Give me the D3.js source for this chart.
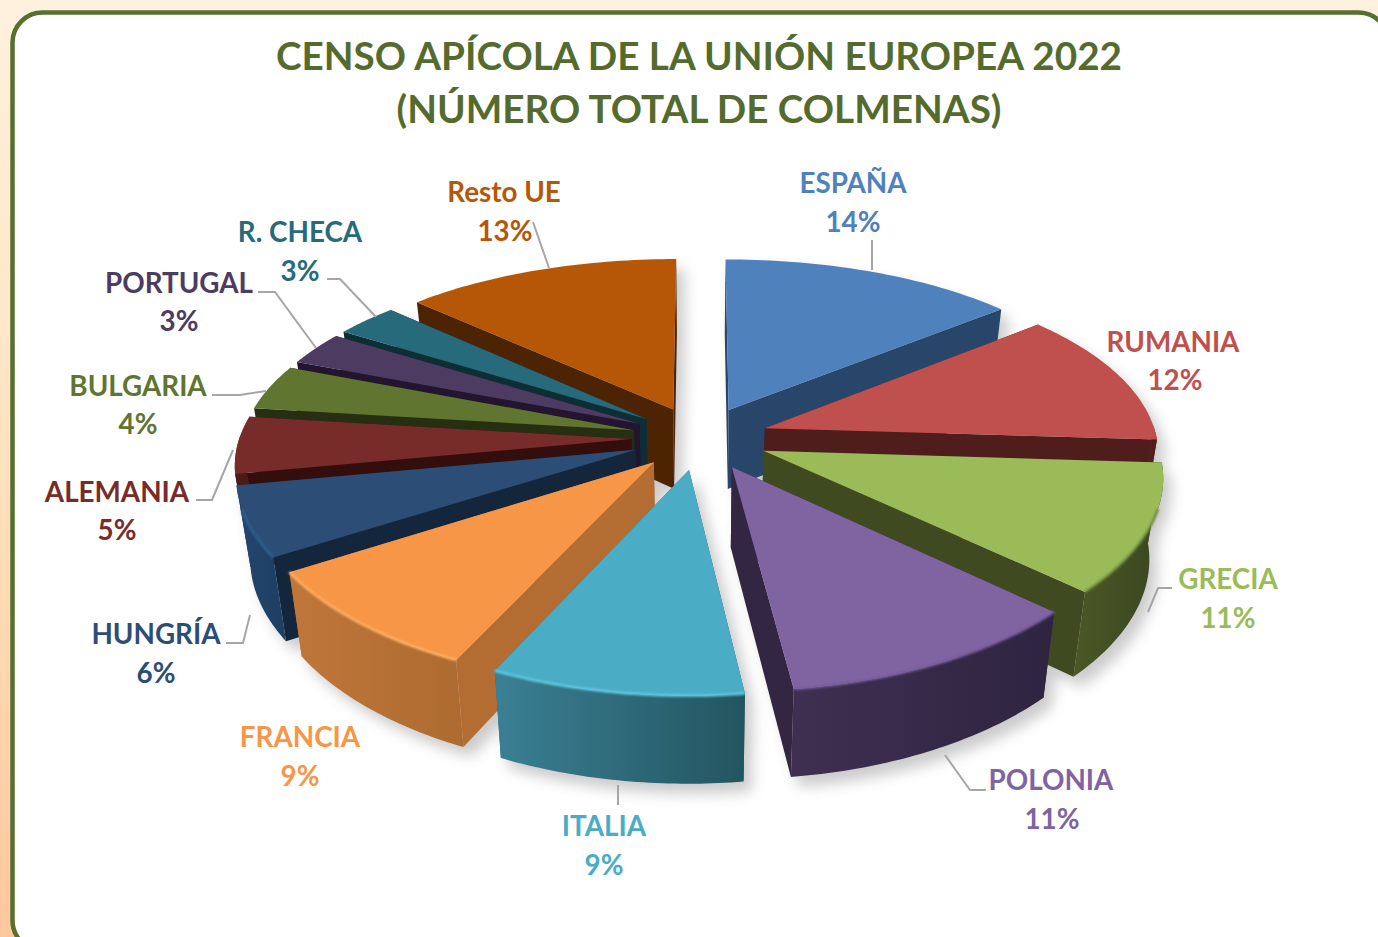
<!DOCTYPE html>
<html><head><meta charset="utf-8">
<script src="https://cdn.jsdelivr.net/npm/d3@7/dist/d3.min.js"></script>
<style>html,body{margin:0;padding:0;overflow:hidden;background:#fff}svg{display:block}text{font-family:Lato,"Open Sans",sans-serif;font-weight:700}</style>
</head><body><svg id="c" width="1378" height="937"></svg>
<script>
const categories=["ESPAÑA","RUMANIA","GRECIA","POLONIA","ITALIA","FRANCIA","HUNGRÍA","ALEMANIA","BULGARIA","PORTUGAL","R. CHECA","Resto UE"];
const values=[14,12,11,11,9,9,6,5,4,3,3,13];
const topColors=["#4F81BD","#C0504D","#9BBB59","#8064A2","#4BACC6","#F79646","#2C4D75","#772C2A","#5F7530","#4D3B62","#276A7C","#B65708"];
const sideColors=["#27466A","#4F1D1B","#3F4A20","#332642","#2A6374","#B36D33","#14263C","#330E0C","#272F12","#231530","#0E2E36","#4D2403"];
const wallLeft=["#27466A","#5A2320","#4A5826","#3F2F52","#3A8094","#C0763A","#234670","#4E1A18","#3A4A1A","#30243F","#174450","#6B3304"];
const wallRight=["#27466A","#4F1D1B","#3A4620","#2E2440","#235560","#AD6B30","#1E3E62","#4E1A18","#3A4A1A","#30243F","#174450","#6B3304"];
const rimColors=["#5A8CC8","#A8403D","#6F8A3F","#76599A","#62CBE6","#FFB166","#33608F","#7F3432","#6A8236","#55426C","#2C7488","#C0600C"];
const labelPos=[[853,193,853,232],[1173,352,1175,390],[1228,589,1228,628],[1051,790,1052,829],[604,836,604,875],[300,747,300,786],[156,644,156,683],[117,502,117,540],[138,396,138,434],[179,293,179,331],[300,242,300,281],[504,202,505,241]];
const leaders=[[[872,240],[872,270]],[],[[1172,588],[1158,588],[1148,612]],[[986,790],[970,790],[945,755]],[[618,785],[618,805]],[],[[226,643],[243,643],[250,615]],[[196,500],[212,500],[233,450]],[[212,395],[240,395],[266,391]],[[258,292],[275,292],[316,348]],[[327,279],[340,279],[376,317]],[[533,222],[549,268]]];
const titleLines=["CENSO APÍCOLA DE LA UNIÓN EUROPEA 2022","(NÚMERO TOTAL DE COLMENAS)"];

const svg=d3.select("#c"), defs=svg.append("defs");
const bg=defs.append("linearGradient").attr("id","bg").attr("x1",0).attr("x2",0).attr("y1",0).attr("y2",1);
bg.append("stop").attr("offset",0).attr("stop-color","#FEF1DE");
bg.append("stop").attr("offset",.5).attr("stop-color","#FFE2BE");
bg.append("stop").attr("offset",1).attr("stop-color","#FFC79E");
defs.append("filter").attr("id","blur").attr("x","-20%").attr("y","-20%").attr("width","140%").attr("height","140%")
  .append("feGaussianBlur").attr("stdDeviation",7);
defs.append("filter").attr("id","soft").attr("filterUnits","userSpaceOnUse").attr("x",0).attr("y",0).attr("width",1378).attr("height",937)
  .append("feGaussianBlur").attr("stdDeviation",.8);

svg.append("rect").attr("width",1378).attr("height",937).attr("fill","url(#bg)");
svg.append("rect").attr("x",12.5).attr("y",12.5).attr("width",1376).attr("height",938).attr("rx",30)
  .attr("fill","#fff").attr("stroke","#56702F").attr("stroke-width",4.5);

svg.selectAll("text.title").data(titleLines).join("text").attr("class","title")
  .attr("x",699).attr("y",(d,i)=>[70,123][i]).attr("text-anchor","middle")
  .attr("font-size",38.7).attr("fill","#556B2D").text(d=>d);

// tilted perspective projection
const xs=d3.scaleLinear().domain([-1,1]).range([-392,392]);
const ys=d3.scaleLinear().domain([-1,1]).range([-181,181]);
const zs=d3.scaleLinear().domain([0,1]).range([0,80]);
const cx=700, cy=438, persp=.15, perspX=.125, explode=.175;
function project(u,v,z){const s=1/(1-persp*v), sx=1/(1-perspX*v);return [cx+xs(u)*sx*(1-.03*z), cy+ys(v)*s+zs(z)*Math.sqrt(s)];}
const line=d3.line();
const arcs=d3.pie().sort(null).value(d=>d)(values).map((a,i)=>{
  const mid=(a.startAngle+a.endAngle)/2, ox=explode*Math.sin(mid), oy=-explode*Math.cos(mid);
  const angs=d3.range(0,41).map(k=>a.startAngle+(a.endAngle-a.startAngle)*k/40);
  const rim=angs.map(t=>[ox+Math.sin(t),oy-Math.cos(t)]);
  return {i,ox,oy,rim,depth:-Math.cos(mid)};
});
arcs.sort((p,q)=>p.depth-q.depth);
const P=(pts,z)=>pts.map(p=>project(p[0],p[1],z));
function geom(d){
  const apex=[d.ox,d.oy], top=P([apex,...d.rim],0);
  const first=d.rim[0], last=d.rim[d.rim.length-1];
  const front=d.rim.filter(p=>p[1]>d.oy-.03);
  const lit=d.rim.filter(p=>p[1]>d.oy+.3);
  return {
    top:line(top)+"Z",
    outer:front.length>1?line([...P(front,0),...P(front,1).reverse()])+"Z":null,
    w1:line([...P([apex,first],0),...P([first,apex],1)])+"Z",
    w2:line([...P([apex,last],0),...P([last,apex],1)])+"Z",
    rim:lit.length>1?line(P(lit,0)):null
  };
}
arcs.forEach(d=>{const g=defs.append("linearGradient").attr("id","w"+d.i).attr("x1",0).attr("x2",1).attr("y1",0).attr("y2",0);
  g.append("stop").attr("offset",0).attr("stop-color",wallLeft[d.i]);
  g.append("stop").attr("offset",1).attr("stop-color",wallRight[d.i]);});

const shadow=svg.append("g").attr("filter","url(#blur)").attr("transform","translate(8,10)").attr("opacity",.3);
arcs.forEach(d=>{const g=geom(d);[g.top,g.outer,g.w1,g.w2].filter(Boolean).forEach(p=>shadow.append("path").attr("d",p).attr("fill","#555"));});

const slices=svg.selectAll("g.s").data(arcs).join("g").attr("class","s");
slices.each(function(d){
  const s=d3.select(this), g=geom(d);
  s.append("path").attr("d",g.w1).attr("fill",sideColors[d.i]);
  s.append("path").attr("d",g.w2).attr("fill",sideColors[d.i]);
  if(g.outer) s.append("path").attr("d",g.outer).attr("fill",`url(#w${d.i})`);
  s.append("path").attr("d",g.top).attr("fill",topColors[d.i]);
  if(g.rim) s.append("path").attr("d",g.rim).attr("fill","none").attr("stroke",rimColors[d.i]).attr("stroke-width",2.5).attr("filter","url(#soft)");
});

svg.selectAll("path.lead").data(leaders.filter(l=>l.length)).join("path").attr("class","lead")
  .attr("d",d=>line(d)).attr("fill","none").attr("stroke","#A6A6A6").attr("stroke-width",2);

categories.forEach((c,i)=>{
  const p=labelPos[i];
  svg.append("text").attr("x",p[0]).attr("y",p[1]).attr("text-anchor","middle").attr("font-size",27.8).attr("fill",topColors[i]).text(c);
  svg.append("text").attr("x",p[2]).attr("y",p[3]).attr("text-anchor","middle").attr("font-size",27.8).attr("fill",topColors[i]).text(values[i]+"%");
});
</script></body></html>
